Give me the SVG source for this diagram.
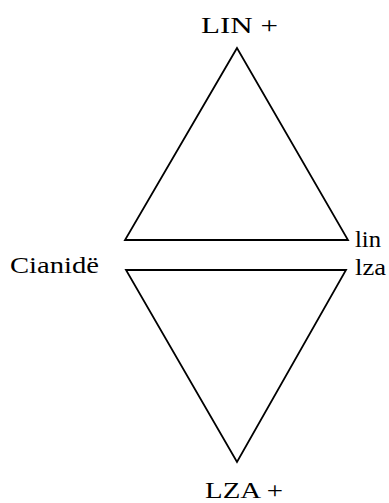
<svg xmlns="http://www.w3.org/2000/svg" width="389" height="503" viewBox="0 0 389 503">
<style>
.t{font-family:"Liberation Serif","Times New Roman",serif;font-size:23px;fill:#000}
.e{fill:none;stroke:#000;stroke-width:1.8}
</style>
<rect width="389" height="503" fill="#fff"/>
<g id="connectors">
<polygon id="top-triangle" class="e" points="237,48 125,240 348,240"/>
<polygon id="bottom-triangle" class="e" points="126,270 346,270 237,462"/>
</g>
<g id="lin-plus"><text class="t" x="201" y="33" textLength="77" lengthAdjust="spacingAndGlyphs">LIN +</text></g>
<g id="lza-plus"><text class="t" x="205" y="498" textLength="78" lengthAdjust="spacingAndGlyphs">LZA +</text></g>
<g id="cianide"><text class="t" x="10" y="273" textLength="89" lengthAdjust="spacingAndGlyphs">Cianidë</text></g>
<g id="lin"><text class="t" x="355" y="247" textLength="26" lengthAdjust="spacingAndGlyphs">lin</text></g>
<g id="lza"><text class="t" x="355" y="275" textLength="31" lengthAdjust="spacingAndGlyphs">lza</text></g>
</svg>
